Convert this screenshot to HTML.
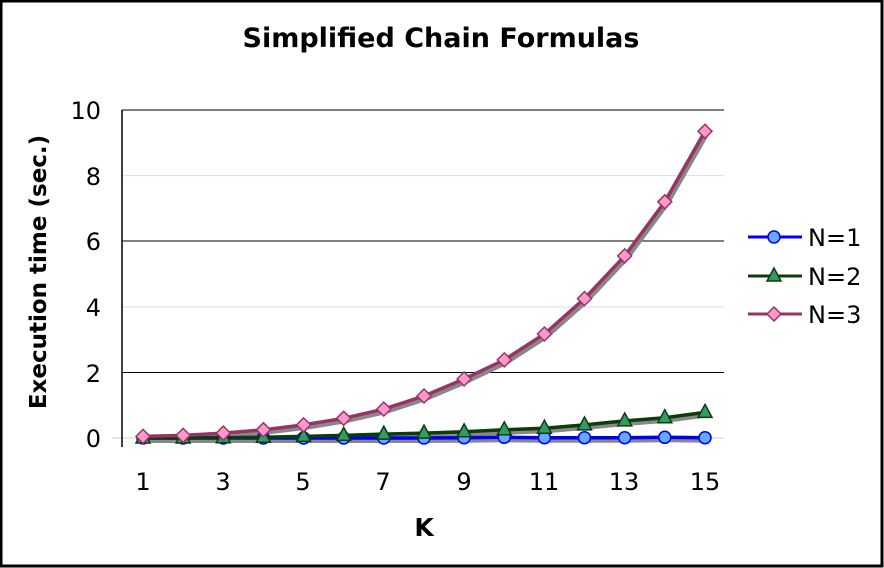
<!DOCTYPE html>
<html><head><style>
body{margin:0;background:#fff}
svg{display:block;font-family:"DejaVu Sans","Liberation Sans",sans-serif}
</style></head><body>
<svg width="884" height="568" viewBox="0 0 884 568" xmlns="http://www.w3.org/2000/svg" xmlns:xlink="http://www.w3.org/1999/xlink">
<defs>
<circle id="c" r="6" fill="#66aaff" stroke="#0000ee" stroke-width="1.5"/>
<polygon id="t" points="0,-8 7,5 -7,5" fill="#339966" stroke="#0b3d0b" stroke-width="1.5"/>
<polygon id="d" points="0,-7 7,0 0,7 -7,0" fill="#ff99cc" stroke="#993366" stroke-width="1.5"/>
</defs>
<rect x="1" y="1" width="881" height="565" fill="#fff" stroke="#000" stroke-width="3"/>
<text x="441" y="47" font-size="27" font-weight="bold" text-anchor="middle">Simplified Chain Formulas</text>
<line x1="122" x2="724" y1="110" y2="110" stroke="#000"/>
<line x1="122" x2="724" y1="175.6" y2="175.6" stroke="#ddd"/>
<line x1="122" x2="724" y1="241" y2="241" stroke="#000"/>
<line x1="122" x2="724" y1="307" y2="307" stroke="#ddd"/>
<line x1="122" x2="724" y1="372.5" y2="372.5" stroke="#000"/>
<line x1="112" x2="724" y1="438" y2="438" stroke="#ccc"/>
<line x1="122" x2="122" y1="110" y2="447" stroke="#000" stroke-width="1.5"/>
<g font-size="24" text-anchor="end">
<text x="101" y="119">10</text><text x="101" y="185">8</text><text x="101" y="250">6</text>
<text x="101" y="316">4</text><text x="101" y="382">2</text><text x="101" y="447">0</text>
</g>
<g font-size="24" text-anchor="middle">
<text x="143" y="490">1</text><text x="223" y="490">3</text><text x="303" y="490">5</text>
<text x="383" y="490">7</text><text x="464" y="490">9</text><text x="544" y="490">11</text>
<text x="624" y="490">13</text><text x="705" y="490">15</text>
</g>
<text x="424" y="536" font-size="25" font-weight="bold" text-anchor="middle">K</text>
<text transform="translate(46,272) rotate(-90)" font-size="23" font-weight="bold" text-anchor="middle">Execution time (sec.)</text>

<g transform="translate(2,3)" fill="none" stroke="#888" stroke-width="4">
<polyline points="143,438 183.1,438 223.3,438 263.4,438 303.6,438 343.7,438 383.8,438 424,438 464.1,437.7 504.3,437.3 544.4,437.7 584.5,437.7 624.7,437.7 664.8,437.3 705,437.7"/>
<polyline points="143,438 183.1,438 223.3,437.7 263.4,437.3 303.6,436.4 343.7,435.4 383.8,434.1 424,433.1 464.1,431.8 504.3,429.8 544.4,428.2 584.5,424.9 624.7,420.9 664.8,417.7 705,412.4"/>
<polyline points="143,436.4 183.1,435.4 223.3,433.1 263.4,429.8 303.6,424.9 343.7,418.3 383.8,409.1 424,396 464.1,379 504.3,359.9 544.4,334 584.5,298.6 624.7,255.9 664.8,201.8 705,131.3"/>
</g>
<polyline fill="none" stroke="#0000ee" stroke-width="3.5" points="143,438 183.1,438 223.3,438 263.4,438 303.6,438 343.7,438 383.8,438 424,438 464.1,437.7 504.3,437.3 544.4,437.7 584.5,437.7 624.7,437.7 664.8,437.3 705,437.7"/>
<g>
<use xlink:href="#c" x="143" y="438"/><use xlink:href="#c" x="183.1" y="438"/><use xlink:href="#c" x="223.3" y="438"/><use xlink:href="#c" x="263.4" y="438"/><use xlink:href="#c" x="303.6" y="438"/><use xlink:href="#c" x="343.7" y="438"/><use xlink:href="#c" x="383.8" y="438"/><use xlink:href="#c" x="424" y="438"/><use xlink:href="#c" x="464.1" y="437.7"/><use xlink:href="#c" x="504.3" y="437.3"/><use xlink:href="#c" x="544.4" y="437.7"/><use xlink:href="#c" x="584.5" y="437.7"/><use xlink:href="#c" x="624.7" y="437.7"/><use xlink:href="#c" x="664.8" y="437.3"/><use xlink:href="#c" x="705" y="437.7"/>
</g>
<polyline fill="none" stroke="#0b3d0b" stroke-width="3.5" points="143,438 183.1,438 223.3,437.7 263.4,437.3 303.6,436.4 343.7,435.4 383.8,434.1 424,433.1 464.1,431.8 504.3,429.8 544.4,428.2 584.5,424.9 624.7,420.9 664.8,417.7 705,412.4"/>
<g>
<use xlink:href="#t" x="143" y="438"/><use xlink:href="#t" x="183.1" y="438"/><use xlink:href="#t" x="223.3" y="437.7"/><use xlink:href="#t" x="263.4" y="437.3"/><use xlink:href="#t" x="303.6" y="436.4"/><use xlink:href="#t" x="343.7" y="435.4"/><use xlink:href="#t" x="383.8" y="434.1"/><use xlink:href="#t" x="424" y="433.1"/><use xlink:href="#t" x="464.1" y="431.8"/><use xlink:href="#t" x="504.3" y="429.8"/><use xlink:href="#t" x="544.4" y="428.2"/><use xlink:href="#t" x="584.5" y="424.9"/><use xlink:href="#t" x="624.7" y="420.9"/><use xlink:href="#t" x="664.8" y="417.7"/><use xlink:href="#t" x="705" y="412.4"/>
</g>
<polyline fill="none" stroke="#993366" stroke-width="3.5" points="143,436.4 183.1,435.4 223.3,433.1 263.4,429.8 303.6,424.9 343.7,418.3 383.8,409.1 424,396 464.1,379 504.3,359.9 544.4,334 584.5,298.6 624.7,255.9 664.8,201.8 705,131.3"/>
<g>
<use xlink:href="#d" x="143" y="436.4"/><use xlink:href="#d" x="183.1" y="435.4"/><use xlink:href="#d" x="223.3" y="433.1"/><use xlink:href="#d" x="263.4" y="429.8"/><use xlink:href="#d" x="303.6" y="424.9"/><use xlink:href="#d" x="343.7" y="418.3"/><use xlink:href="#d" x="383.8" y="409.1"/><use xlink:href="#d" x="424" y="396"/><use xlink:href="#d" x="464.1" y="379"/><use xlink:href="#d" x="504.3" y="359.9"/><use xlink:href="#d" x="544.4" y="334"/><use xlink:href="#d" x="584.5" y="298.6"/><use xlink:href="#d" x="624.7" y="255.9"/><use xlink:href="#d" x="664.8" y="201.8"/><use xlink:href="#d" x="705" y="131.3"/>
</g>

<line x1="748" x2="802" y1="237" y2="237" stroke="#0000ee" stroke-width="3"/><use xlink:href="#c" x="774" y="237"/>
<line x1="748" x2="802" y1="276" y2="276" stroke="#0b3d0b" stroke-width="3"/><use xlink:href="#t" x="774" y="276"/>
<line x1="748" x2="802" y1="314" y2="314" stroke="#993366" stroke-width="3"/><use xlink:href="#d" x="774" y="314"/>
<g font-size="24">
<text x="808" y="246">N=1</text><text x="808" y="285">N=2</text><text x="808" y="323">N=3</text>
</g>
</svg>
</body></html>
